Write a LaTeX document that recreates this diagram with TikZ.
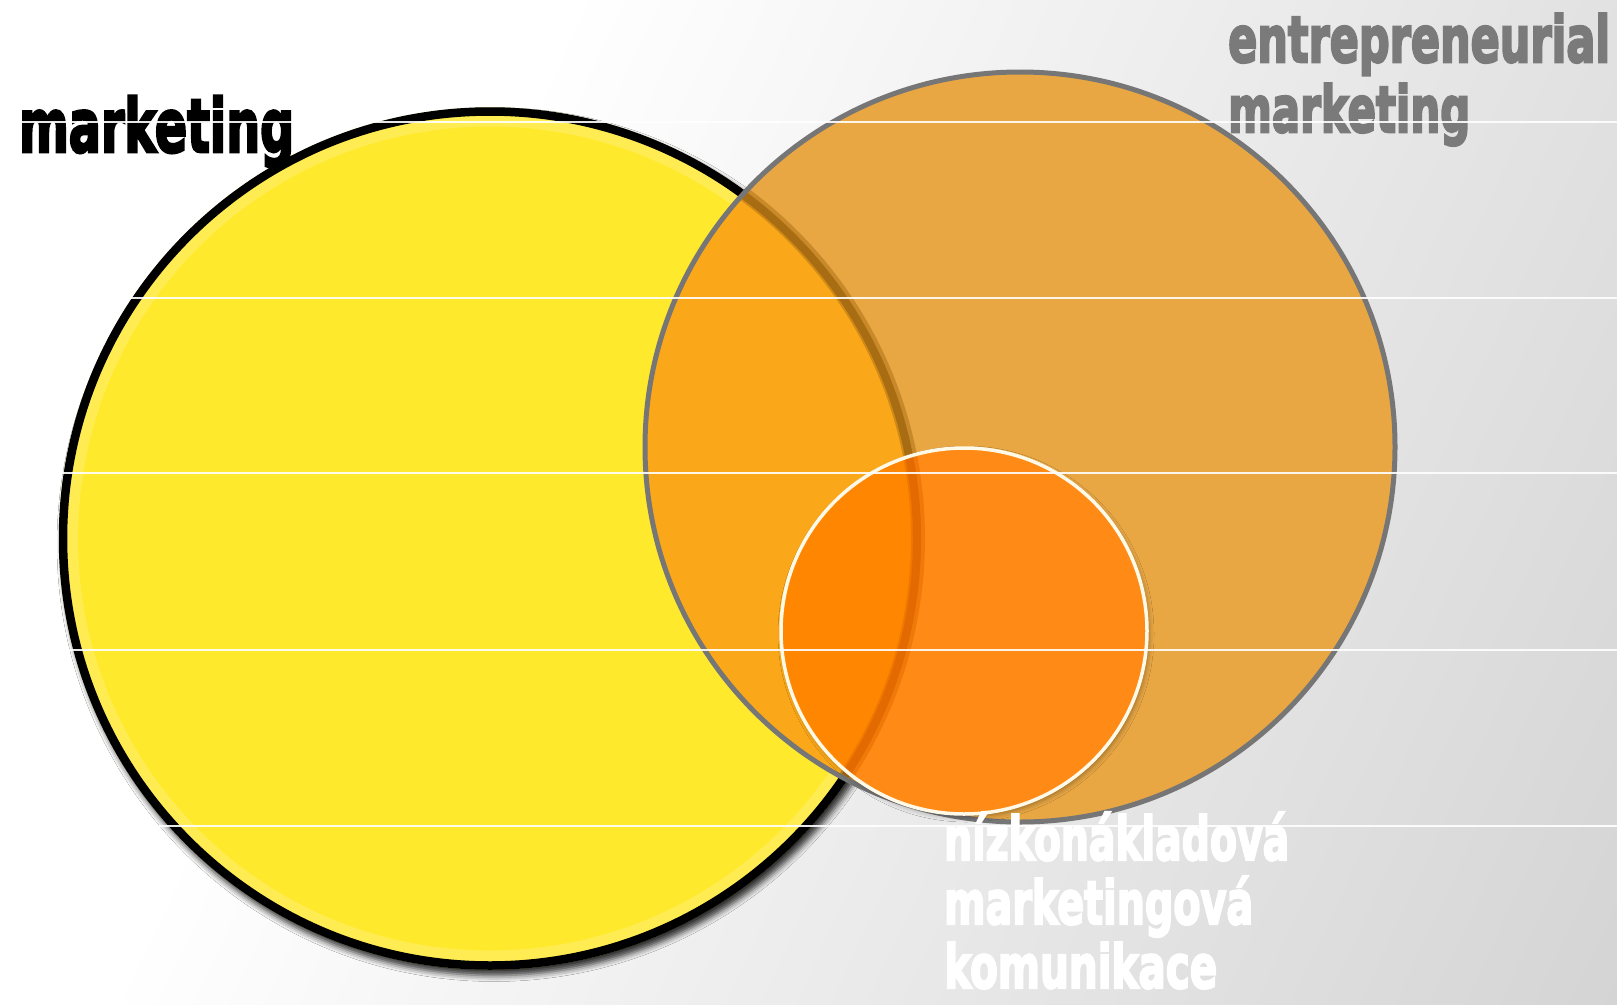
\documentclass[tikz,border=0pt]{standalone}
\usepackage{fontspec}
\usepackage{graphicx}
\usetikzlibrary{shadows.blur}

\newfontfamily\headfont{DejaVu Sans Bold}[FakeBold=4]

% one line of heading text squeezed to a given width
\newcommand{\fitline}[2]{\hbox{\resizebox{#1}{\height}{#2}}}
% stacked heading lines with a fixed baseline distance
\newcommand{\stacklines}[2]{\vtop{\baselineskip=#1\lineskiplimit=-\maxdimen #2}}

\definecolor{bgmid}{RGB}{224,224,224}
\definecolor{bgdark}{RGB}{197,197,197}
\definecolor{mktyellow}{RGB}{255,233,45}
\definecolor{entorange}{RGB}{233,167,68}
\definecolor{overlaporange}{RGB}{250,168,26}
\definecolor{seenrim}{RGB}{168,108,18}
\definecolor{entrim}{RGB}{118,118,118}
\definecolor{lowcost}{RGB}{255,138,22}
\definecolor{lowcostinner}{RGB}{255,134,0}
\definecolor{lowcostrim}{RGB}{226,106,0}
\definecolor{rimwhite}{RGB}{255,250,232}
\definecolor{labelgray}{RGB}{122,122,122}

\pgfdeclarehorizontalshading{backdrop}{100bp}{color(0bp)=(white); color(35bp)=(white); color(70bp)=(bgmid); color(100bp)=(bgdark)}

\tikzset{
  heading/.style={inner sep=0pt, anchor=base west},
  scanline/.style={white, line width=1.3pt, opacity=0.9}
}

\begin{document}
\begin{tikzpicture}[x=1pt, y=-1pt]
\useasboundingbox (0,0) rectangle (1617,1004);
\shade[shading=backdrop, shading angle=-25] (0,0) rectangle (1617,1004);

\coordinate (Y) at (490,538.5);
\coordinate (E) at (1020,447);
\coordinate (S) at (964,631);

% marketing
\fill[mktyellow, blur shadow={shadow xshift=4pt, shadow yshift=-6pt, shadow blur radius=6pt, shadow opacity=80}] (Y) circle[radius=431pt];
\begin{scope}
  \clip (Y) circle[radius=423pt];
  \draw[white, opacity=0.18, line width=22pt] (Y) circle[radius=423pt];
\end{scope}
\draw[black, line width=8.5pt] (Y) circle[radius=427pt];

% entrepreneurial marketing
\fill[entorange] (E) circle[radius=375pt];
\begin{scope}
  \clip (Y) circle[radius=431pt];
  \fill[overlaporange] (E) circle[radius=375pt];
\end{scope}
\begin{scope}
  \clip (E) circle[radius=375pt];
  \draw[seenrim, opacity=0.5, line width=14pt] (Y) circle[radius=428pt];
  \draw[seenrim, line width=8pt] (Y) circle[radius=427pt];
\end{scope}
\draw[entrim, line width=5pt] (E) circle[radius=375pt];

% low-cost marketing communication
\fill[lowcost, blur shadow={shadow xshift=2pt, shadow yshift=-3pt, shadow blur radius=5pt, shadow opacity=35}] (S) circle[radius=183pt];
\begin{scope}
  \clip (Y) circle[radius=431pt];
  \fill[lowcostinner] (S) circle[radius=183pt];
\end{scope}
\begin{scope}
  \clip (S) circle[radius=183pt];
  \draw[lowcostrim, opacity=0.5, line width=14pt] (Y) circle[radius=428pt];
  \draw[lowcostrim, line width=8pt] (Y) circle[radius=427pt];
\end{scope}
\draw[rimwhite, line width=3.5pt] (S) circle[radius=183pt];

% labels
\node[heading, text=black, font=\headfont\fontsize{74}{80}\selectfont] (mklabel) at (19,152)
  {\fitline{275pt}{marketing}};
\node[heading, text=labelgray, font=\headfont\fontsize{64}{70}\selectfont] (entlabel) at (1228,62)
  {\stacklines{70pt}{\fitline{382pt}{entrepreneurial}\fitline{242pt}{marketing}}};
\node[heading, text=white, font=\headfont\fontsize{60}{64}\selectfont] (lowlabel) at (944,860)
  {\stacklines{64pt}{\fitline{345pt}{nízkonákladová}\fitline{309pt}{marketingová}\fitline{273pt}{komunikace}}};

% light horizontal streaks across the picture
\foreach \yy in {122,298,473,650,826}
  \draw[scanline] (0,\yy) -- (1617,\yy);
\end{tikzpicture}
\end{document}
